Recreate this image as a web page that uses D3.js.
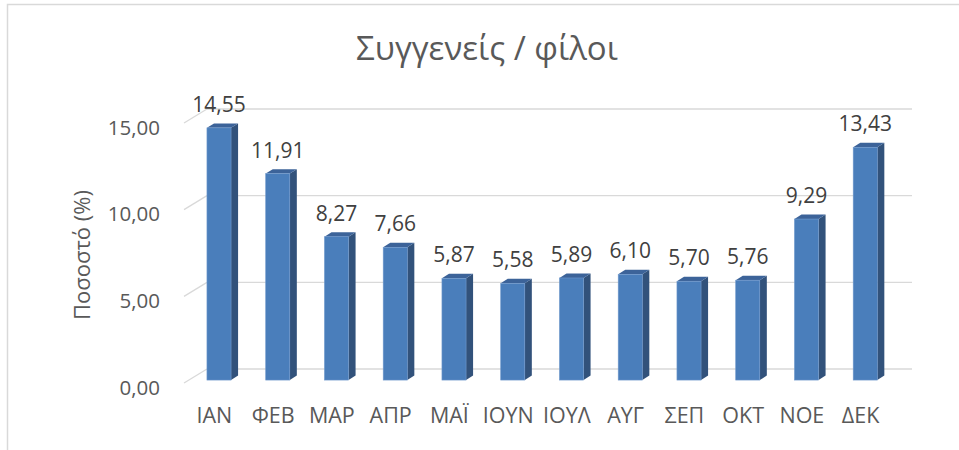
<!DOCTYPE html>
<html>
<head>
<meta charset="utf-8">
<script src="https://cdn.jsdelivr.net/npm/d3@7"></script>
<style>
	body { margin: 0; background: #fff; }
	svg { display: block; font-family: "Open Sans", sans-serif; }
</style>
</head>
<body>
<div id="chart"></div>
<script>
var months = ["ΙΑΝ", "ΦΕΒ", "ΜΑΡ", "ΑΠΡ", "ΜΑΪ", "ΙΟΥΝ", "ΙΟΥΛ", "ΑΥΓ", "ΣΕΠ", "ΟΚΤ", "ΝΟΕ", "ΔΕΚ"]
var percent = [14.55, 11.91, 8.27, 7.66, 5.87, 5.58, 5.89, 6.10, 5.70, 5.76, 9.29, 13.43]
var yTicks = [0, 5, 10, 15]
var title = "Συγγενείς / φίλοι"
var yTitle = "Ποσοστό (%)"

var width = 959, height = 450
// depth of the 3d floor (front -> back wall)
var depth = {dx: 22, dy: -14}
var barFront = 0.21, barBack = 0.53

var locale = d3.formatLocale({decimal: ",", thousands: ".", grouping: [3], currency: ["", "€"]})
var fmt = locale.format(".2f")

const svg = d3.select("#chart")
	.append("svg")
	.attr("width", width)
	.attr("height", height)

// chart border
svg.append("path")
	.attr("d", "M7.5,450 V4.5 H959")
	.attr("fill", "none")
	.attr("stroke", "#d9d9d9")
	.attr("stroke-width", 1.5)

const x = d3.scaleBand()
	.domain(months)
	.range([185, 890])
	.paddingInner(0.59)
	.paddingOuter(0.295)

const y = d3.scaleLinear()
	.domain([0, 15])
	.range([383, 123])

// back wall gridlines + side diagonals
const grid = svg.append("g")
grid.selectAll("line.grid")
	.data(yTicks)
	.join("line")
	.attr("class", "grid")
	.attr("x1", 185 + depth.dx)
	.attr("x2", 890 + depth.dx)
	.attr("y1", d => y(d) + depth.dy)
	.attr("y2", d => y(d) + depth.dy)
	.attr("stroke", "#d9d9d9")
	.attr("stroke-width", 1.3)
grid.selectAll("line.diag")
	.data(yTicks)
	.join("line")
	.attr("class", "diag")
	.attr("x1", 184)
	.attr("x2", 185 + depth.dx)
	.attr("y1", d => y(d))
	.attr("y2", d => y(d) + depth.dy)
	.attr("stroke", "#d9d9d9")
	.attr("stroke-width", 1.3)

// y axis
const yAxis = svg.append("g")
	.attr("transform", "translate(160,0)")
	.call(d3.axisLeft(y).tickValues(yTicks).tickSize(0).tickPadding(0).tickFormat(fmt))
yAxis.select(".domain").remove()
yAxis.selectAll("text")
	.attr("dy", 11)
	.attr("font-size", 20.5)
	.attr("font-family", "Open Sans, sans-serif")
	.attr("fill", "#595959")

// x axis
const xAxis = svg.append("g")
	.attr("transform", "translate(0,383)")
	.call(d3.axisBottom(x).tickSize(0).tickPadding(0))
xAxis.select(".domain").remove()
xAxis.selectAll("text")
	.attr("dy", 40)
	.attr("font-size", 21.5)
	.attr("font-family", "Open Sans, sans-serif")
	.attr("fill", "#595959")

// bars
var data = months.map((m, i) => ({month: m, value: percent[i]}))
var sdx = depth.dx * (barBack - barFront), sdy = depth.dy * (barBack - barFront)

function bar(d) {
	let x0 = x(d.month) + depth.dx * barFront
	let x1 = x0 + x.bandwidth()
	let yt = y(d.value) + depth.dy * barFront
	let yb = y(0) + depth.dy * barFront
	return {x0: x0, x1: x1, yt: yt, yb: yb}
}

const bars = svg.append("g")
	.selectAll("g")
	.data(data)
	.join("g")

bars.append("path")
	.attr("d", d => {
		let b = bar(d)
		return `M${b.x1},${b.yt} L${b.x1 + sdx},${b.yt + sdy} L${b.x1 + sdx},${b.yb + sdy} L${b.x1},${b.yb} Z`
	})
	.attr("fill", "#32527b")

bars.append("path")
	.attr("d", d => {
		let b = bar(d)
		return `M${b.x0},${b.yt} L${b.x1},${b.yt} L${b.x1 + sdx},${b.yt + sdy} L${b.x0 + sdx},${b.yt + sdy} Z`
	})
	.attr("fill", "#3c6399")

bars.append("rect")
	.attr("x", d => bar(d).x0)
	.attr("y", d => bar(d).yt)
	.attr("width", x.bandwidth())
	.attr("height", d => bar(d).yb - bar(d).yt)
	.attr("fill", "#4a7ebb")
	.attr("stroke", "#6f98cc")
	.attr("stroke-width", 0.6)

// value labels
bars.append("text")
	.attr("x", d => bar(d).x0 + x.bandwidth() / 2)
	.attr("y", d => y(d.value) - 19)
	.attr("text-anchor", "middle")
	.attr("font-size", 21)
	.attr("fill", "#404040")
	.text(d => fmt(d.value))

// titles
svg.append("text")
	.attr("x", 487)
	.attr("y", 60)
	.attr("text-anchor", "middle")
	.attr("font-size", 33)
	.attr("fill", "#595959")
	.text(title)

svg.append("text")
	.attr("transform", "translate(90,255) rotate(-90)")
	.attr("text-anchor", "middle")
	.attr("font-size", 22)
	.attr("fill", "#595959")
	.text(yTitle)
</script>
</body>
</html>
